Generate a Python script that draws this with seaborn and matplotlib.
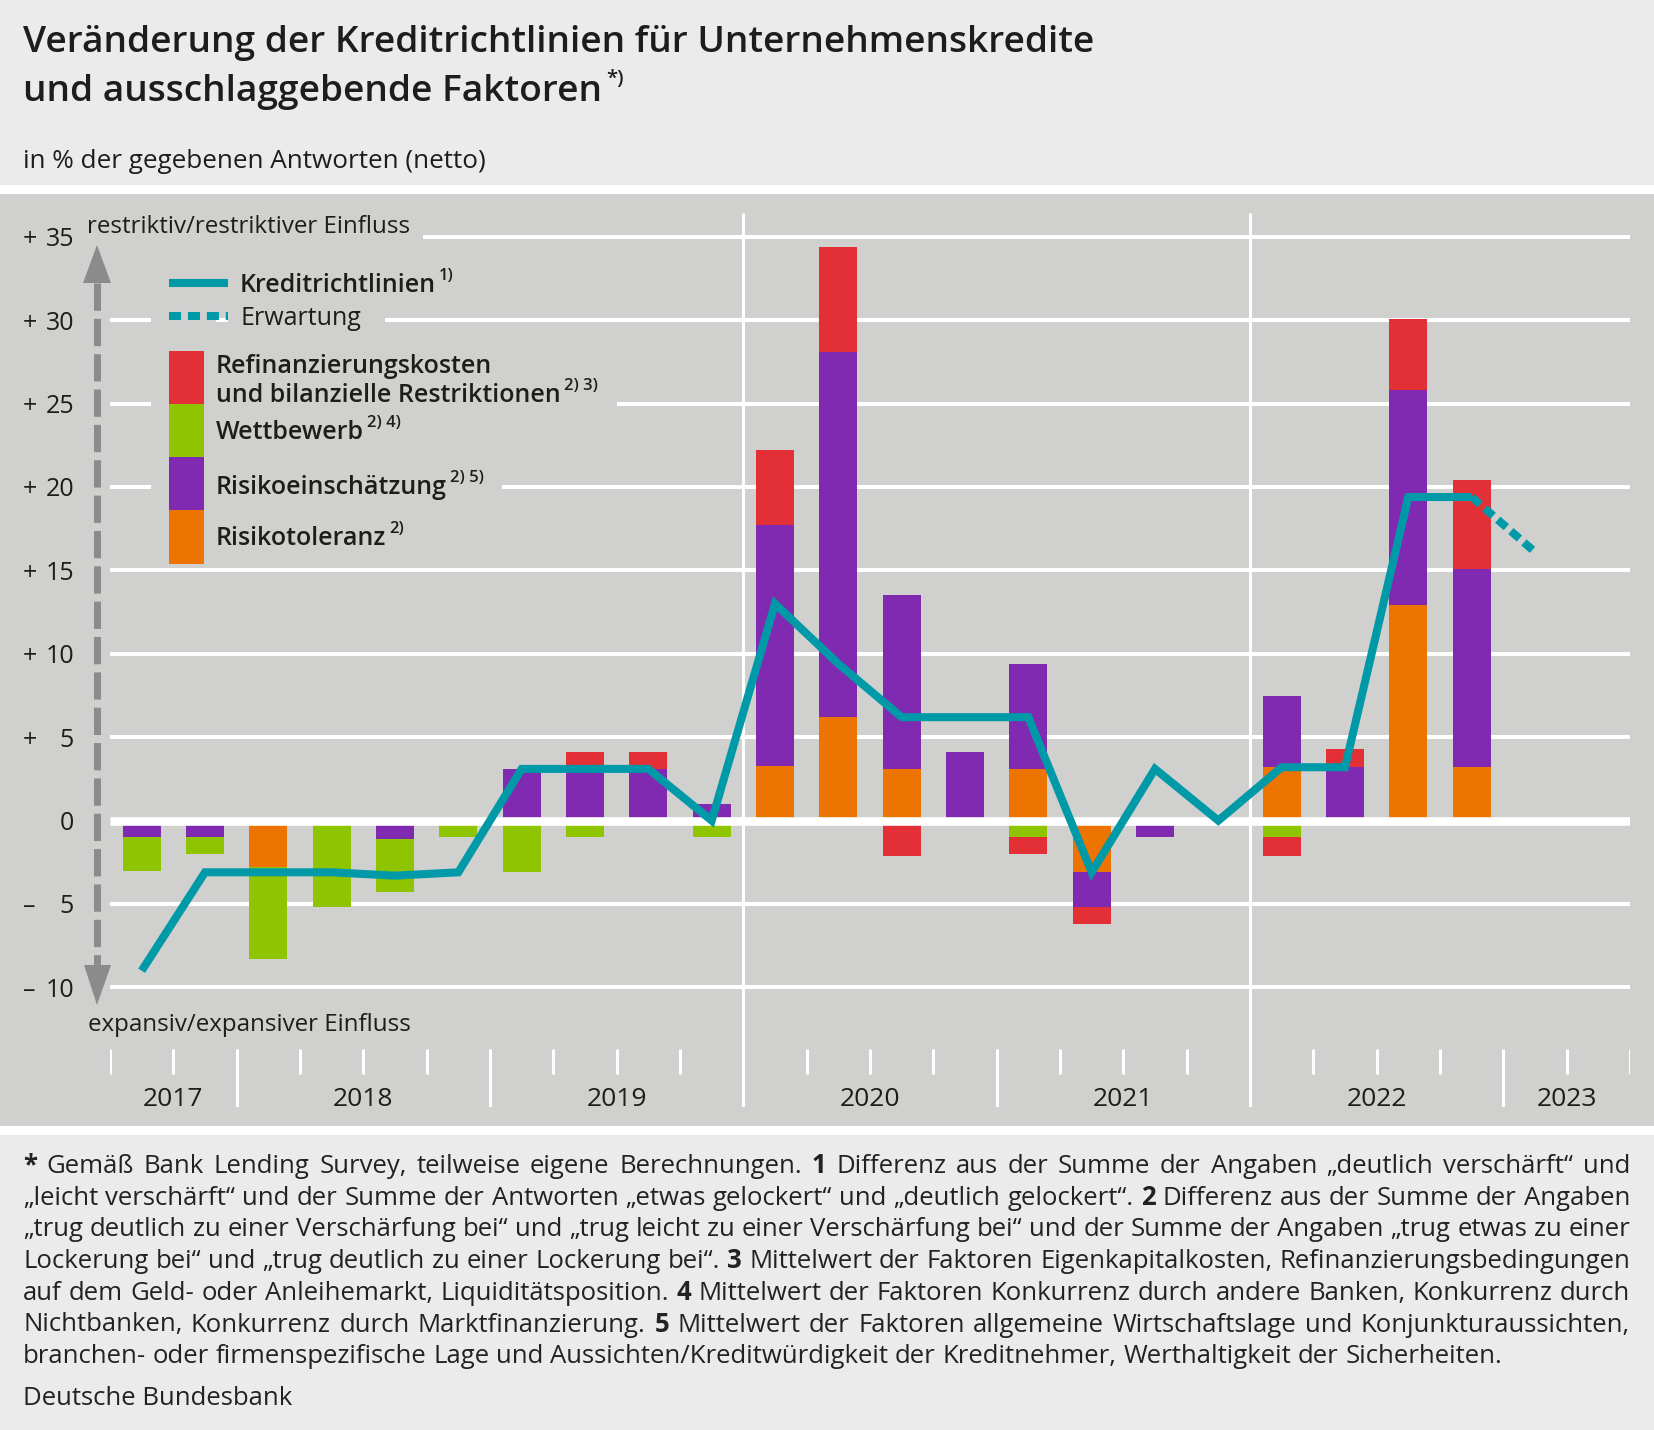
"""
Kreditrichtlinien für Unternehmenskredite und ausschlaggebende Faktoren
"""

import matplotlib
matplotlib.use('Agg')

import numpy as np
import matplotlib.pyplot as plt
from matplotlib.patches import Rectangle, Polygon
from matplotlib.lines import Line2D
from matplotlib.transforms import blended_transform_factory
import seaborn as sns

# ---------------- Daten (netto, in % der Antworten) ----------------
quartale = ["2017 Q3", "2017 Q4",
            "2018 Q1", "2018 Q2", "2018 Q3", "2018 Q4",
            "2019 Q1", "2019 Q2", "2019 Q3", "2019 Q4",
            "2020 Q1", "2020 Q2", "2020 Q3", "2020 Q4",
            "2021 Q1", "2021 Q2", "2021 Q3", "2021 Q4",
            "2022 Q1", "2022 Q2", "2022 Q3", "2022 Q4"]
achse_quartale = quartale + ["2023 Q1", "2023 Q2"]
trennlinien = ["2020 Q1", "2022 Q1"]

risikotoleranz = [0, 0, -2.8, 0, 0, 0, 0, 0, 0, 0,
                  3.3, 6.2, 3.1, 0, 3.1, -3.1, 0, 0, 3.2, 0, 12.9, 3.2]
risikoeinschaetzung = [-1.0, -1.0, 0, 0, -1.1, 0, 3.1, 3.1, 3.1, 1.0,
                       14.4, 21.9, 10.4, 4.1, 6.3, -2.1, -1.0, 0, 4.3, 3.2, 12.9, 11.9]
wettbewerb = [-2.0, -1.0, -5.5, -5.2, -3.2, -1.0, -3.1, -1.0, 0, -1.0,
              0, 0, 0, 0, -1.0, 0, 0, 0, -1.0, 0, 0, 0]
refinanzierung = [0, 0, 0, 0, 0, 0, 0, 1.0, 1.0, 0,
                  4.5, 6.3, -2.1, 0, -1.0, -1.0, 0, 0, -1.1, 1.1, 4.3, 5.3]
kreditrichtlinien = [-9.0, -3.1, -3.1, -3.1, -3.3, -3.1, 3.1, 3.1, 3.1, 0.0,
                     13.0, 9.4, 6.2, 6.2, 6.2, -3.1, 3.1, 0.0, 3.2, 3.2, 19.4, 19.4]
erwartung_quartal = "2023 Q1"
erwartung_wert = 16.1

y_ticks = [-10, -5, 0, 5, 10, 15, 20, 25, 30, 35]

# ---------------- Farben ----------------
BG = "#ebebeb"
PANEL = "#d0d0ce"
TXT = "#1d1d1b"
TEAL = "#0099a7"
ORANGE = "#ee7402"
LILA = "#7f2ab1"
GRUEN = "#8fc400"
ROT = "#e33036"
PFEIL = "#8b8b8b"

W, H = 1654, 1430

sns.set_style("white")
plt.rcParams['font.family'] = ['Open Sans', 'DejaVu Sans']
plt.rcParams['text.color'] = TXT


def fx(x):
    return x / W


def fy(y):
    return 1 - y / H


fig = plt.figure(figsize=(W / 100, H / 100), dpi=100, facecolor=BG)
renderer = fig.canvas.get_renderer()


def rect(x0, y0, x1, y1, color, z):
    fig.add_artist(Rectangle((fx(x0), fy(y1)), (x1 - x0) / W, (y1 - y0) / H,
                             transform=fig.transFigure, facecolor=color,
                             edgecolor='none', zorder=z))


def text(x, y, s, size, weight='normal', **kw):
    return fig.text(fx(x), fy(y), s, fontsize=size, fontweight=weight,
                    va=kw.pop('va', 'baseline'), zorder=kw.pop('zorder', 4), **kw)


def breite(s, size, weight='normal'):
    t = fig.text(0, 0, s, fontsize=size, fontweight=weight)
    w = t.get_window_extent(renderer).width
    t.remove()
    return w


# Hintergrundflächen
rect(0, 194, W, 1126, PANEL, -3)
rect(0, 185, W, 194, 'white', -3)
rect(0, 1126, W, 1135, 'white', -3)

# ---------------- Achse ----------------
Y_MAX = (820.6 - 213) / 16.68
Y_MIN = (820.6 - 1107) / 16.68

ax = fig.add_axes([fx(110), fy(1107), 1520 / W, (1107 - 213) / H])
ax.set_xlim(0, len(achse_quartale))
ax.set_ylim(Y_MIN, Y_MAX)
ax.patch.set_visible(False)
for s in ax.spines.values():
    s.set_visible(False)

# Gitterlinien
for v in y_ticks:
    if v == 0:
        ax.hlines(v, 0, len(achse_quartale), color='white', lw=6.2, zorder=3)
    else:
        ax.hlines(v, 0, len(achse_quartale), color='white', lw=2.9, zorder=1)

for q in trennlinien:
    ax.vlines(achse_quartale.index(q), Y_MIN, Y_MAX, color='white', lw=2.2, zorder=1)

# Quartalsstriche und Jahresstriche
for i in range(len(achse_quartale) + 1):
    if i < len(achse_quartale) and achse_quartale[i] in trennlinien:
        continue
    jahresanfang = 0 < i < len(achse_quartale) and achse_quartale[i].endswith("Q1")
    unten = Y_MIN if jahresanfang else -15.19
    ax.vlines(i, unten, -13.69, color='white', lw=2.2, zorder=1)

# Jahresbeschriftung
jahre = sorted(set(q[:4] for q in achse_quartale))
for j in jahre:
    idx = [i for i, q in enumerate(achse_quartale) if q.startswith(j)]
    mitte = (idx[0] + idx[-1] + 1) / 2
    ax.text(mitte, Y_MIN + 0.05, j, ha='center', va='baseline', fontsize=19, color=TXT)

# Gestapelte Balken (positive und negative Teile getrennt)
x = np.arange(len(quartale)) + 0.5
pos_basis = np.zeros(len(x))
neg_basis = np.zeros(len(x))
for werte, farbe in [(risikotoleranz, ORANGE), (risikoeinschaetzung, LILA),
                     (wettbewerb, GRUEN), (refinanzierung, ROT)]:
    w = np.array(werte, dtype=float)
    pos = np.clip(w, 0, None)
    neg = np.clip(w, None, 0)
    ax.bar(x, pos, 0.6, bottom=pos_basis, color=farbe, lw=0, zorder=2)
    ax.bar(x, neg, 0.6, bottom=neg_basis, color=farbe, lw=0, zorder=2)
    pos_basis += pos
    neg_basis += neg

# Kreditrichtlinien und Erwartung
sns.lineplot(x=x, y=kreditrichtlinien, ax=ax, color=TEAL, linewidth=5.8,
             solid_joinstyle='miter', solid_capstyle='butt', zorder=4)
xe = achse_quartale.index(erwartung_quartal) + 0.5
ax.plot([x[-1], xe], [kreditrichtlinien[-1], erwartung_wert], color=TEAL,
        lw=5.8, linestyle=(0, (1.4, 0.75)), dash_capstyle='butt', zorder=4)

# y-Achsenbeschriftung (Zahl rechtsbündig, Vorzeichen links)
ax.set_xticks([])
ax.set_yticks(y_ticks)
ax.set_yticklabels([str(abs(v)) for v in y_ticks])
ax.tick_params(axis='y', length=0, pad=36 * 0.72, labelsize=18, labelcolor=TXT)
ax.set_xlabel("")
ax.set_ylabel("")
trans = blended_transform_factory(fig.transFigure, ax.transData)
for v in y_ticks:
    if v != 0:
        ax.text(fx(23), v, "+" if v > 0 else "–", transform=trans, ha='left',
                va='center_baseline', fontsize=18, color=TXT)

# Pfeil an der y-Achse
fig.add_artist(Line2D([fx(97)] * 2, [fy(283), fy(966)], transform=fig.transFigure,
                      color=PFEIL, lw=7 * 0.72, linestyle=(0, (3.9, 1.15)),
                      dash_capstyle='butt', zorder=2))
fig.add_artist(Polygon([[fx(83), fy(283)], [fx(111), fy(283)], [fx(97), fy(245)]],
                       closed=True, transform=fig.transFigure, facecolor=PFEIL,
                       edgecolor='none', zorder=2))
fig.add_artist(Polygon([[fx(84), fy(965)], [fx(111), fy(965)], [fx(97), fy(1005)]],
                       closed=True, transform=fig.transFigure, facecolor=PFEIL,
                       edgecolor='none', zorder=2))

r0 = text(87, 233, "restriktiv/restriktiver Einfluss", 17.4)
rect(84, 214, r0.get_window_extent(renderer).x1 + 13, 242, PANEL, 1)
text(88, 1031, "expansiv/expansiver Einfluss", 17.4)

# ---------------- Legende ----------------
LEG = 18
SUP = 12


def legendentext(x0, base, s, weight, sup=None):
    t = text(x0, base, s, LEG, weight)
    x1 = t.get_window_extent(renderer).x1
    if sup:
        t2 = text(x1 + 3, base - 12, sup, SUP, weight)
        x1 = t2.get_window_extent(renderer).x1
    return x1


rect(151, 268, 216, 566, PANEL, 1)

# Linie
fig.add_artist(Line2D([fx(169), fx(228)], [fy(283)] * 2, transform=fig.transFigure,
                      color=TEAL, lw=5.8, solid_capstyle='butt', zorder=3))
legendentext(240, 292, "Kreditrichtlinien", 'semibold', "1)")

fig.add_artist(Line2D([fx(169), fx(228)], [fy(316)] * 2, transform=fig.transFigure,
                      color=TEAL, lw=5.8, linestyle=(0, (1.5, 0.85)),
                      dash_capstyle='butt', zorder=3))
e1 = legendentext(240, 325, "Erwartung", 'normal')
rect(228, 301, e1 + 24, 331, PANEL, 1)

# Kästchen
rect(169, 351, 204, 404, ROT, 3)
rect(169, 404, 204, 457, GRUEN, 3)
rect(169, 457, 204, 510, LILA, 3)
rect(169, 510, 204, 564, ORANGE, 3)

legendentext(216, 373, "Refinanzierungskosten", 'semibold')
r1 = legendentext(216, 402, "und bilanzielle Restriktionen", 'semibold', "2) 3)")
rect(204, 349, r1 + 19, 410, PANEL, 1)
legendentext(216, 439, "Wettbewerb", 'semibold', "2) 4)")
r3 = legendentext(216, 494, "Risikoeinschätzung", 'semibold', "2) 5)")
rect(204, 472, r3 + 18, 502, PANEL, 1)
legendentext(216, 545, "Risikotoleranz", 'semibold', "2)")

# ---------------- Titel ----------------
titel1 = "Veränderung der Kreditrichtlinien für Unternehmenskredite"
titel2 = "und ausschlaggebende Faktoren"
tsize = 25 * 1074 / breite(titel1, 25, 'semibold')
text(23, 52, titel1, tsize, 'semibold')
t2 = text(23, 101, titel2, tsize, 'semibold')
text(t2.get_window_extent(renderer).x1 + 4, 84, "*)", tsize * 0.55, 'semibold')
text(23, 168, "in % der gegebenen Antworten (netto)", 18.8)

# ---------------- Fußnoten (Blocksatz) ----------------
fussnote = [
    "§* Gemäß Bank Lending Survey, teilweise eigene Berechnungen. §1 Differenz aus der Summe der Angaben „deutlich verschärft“ und",
    "„leicht verschärft“ und der Summe der Antworten „etwas gelockert“ und „deutlich gelockert“. §2 Differenz aus der Summe der Angaben",
    "„trug deutlich zu einer Verschärfung bei“ und „trug leicht zu einer Verschärfung bei“ und der Summe der Angaben „trug etwas zu einer",
    "Lockerung bei“ und „trug deutlich zu einer Lockerung bei“. §3 Mittelwert der Faktoren Eigenkapitalkosten, Refinanzierungsbedingungen",
    "auf dem Geld- oder Anleihemarkt, Liquiditätsposition. §4 Mittelwert der Faktoren Konkurrenz durch andere Banken, Konkurrenz durch",
    "Nichtbanken, Konkurrenz durch Marktfinanzierung. §5 Mittelwert der Faktoren allgemeine Wirtschaftslage und Konjunkturaussichten,",
    "branchen- oder firmenspezifische Lage und Aussichten/Kreditwürdigkeit der Kreditnehmer, Werthaltigkeit der Sicherheiten.",
]
F_X0, F_X1 = 23, 1630
F_BASE0, F_STEP = 1173, 31.7


def woerter(zeile, size):
    out = []
    for w in zeile.split(" "):
        fett = w.startswith("§")
        w = w.lstrip("§")
        out.append((w, 'bold' if fett else 'normal', breite(w, size, 'bold' if fett else 'normal')))
    return out


fbase = 15
leer = breite("a a", fbase) - breite("aa", fbase)
faktor = min((F_X1 - F_X0) / (sum(b for _, _, b in woerter(z, fbase)) + leer * (len(z.split(" ")) - 1))
             for z in fussnote[:-1])
fsize = fbase * faktor
leer = breite("a a", fsize) - breite("aa", fsize)

for k, zeile in enumerate(fussnote):
    ws = woerter(zeile, fsize)
    summe = sum(b for _, _, b in ws)
    if k < len(fussnote) - 1:
        luecke = (F_X1 - F_X0 - summe) / (len(ws) - 1)
    else:
        luecke = leer
    xpos = F_X0
    for w, gew, b in ws:
        text(xpos, F_BASE0 + k * F_STEP, w, fsize, gew, color="#222222")
        xpos += b + luecke

text(23, 1405, "Deutsche Bundesbank", fsize, color="#222222")

fig.savefig("out.png", dpi=100, facecolor=BG)
plt.close(fig)
